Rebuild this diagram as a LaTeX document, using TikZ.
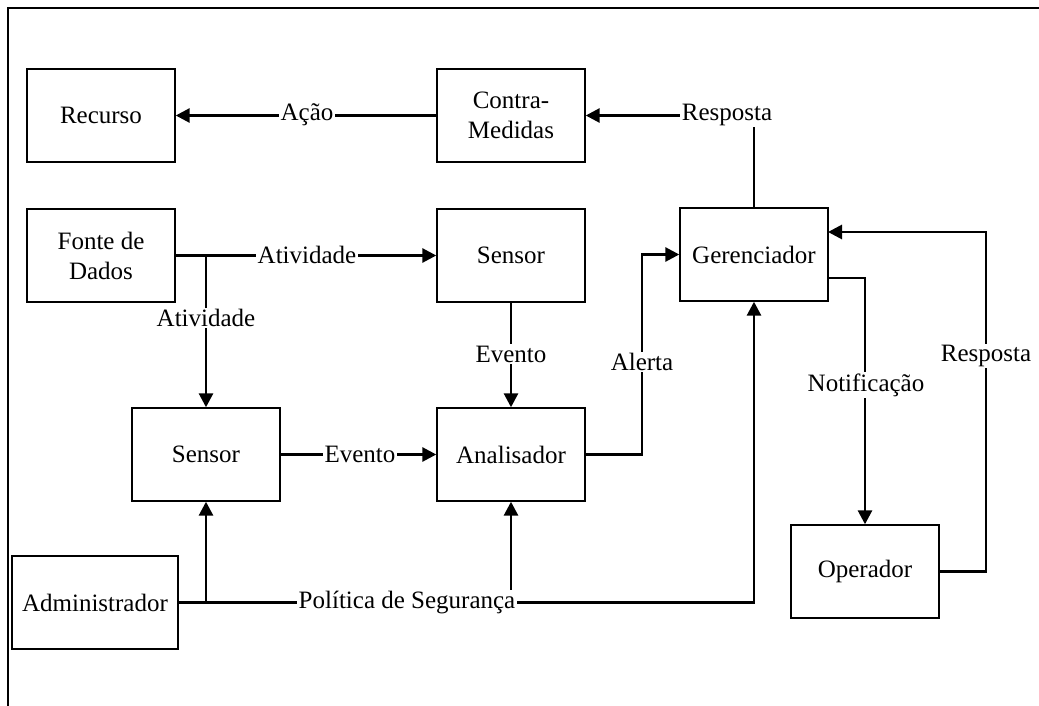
\documentclass[tikz,border=0pt]{standalone}
\usepackage{fontspec}
\setmainfont{Liberation Serif}
\usetikzlibrary{arrows.meta}
\begin{document}
\begin{tikzpicture}[x=1pt,y=-1pt,
  box/.style={draw,line width=1.4pt,rectangle,minimum width=148pt,minimum height=93pt,
    inner sep=0pt,align=center,font=\fontsize{25}{30}\selectfont},
  conn/.style={line width=2.8pt,-{Triangle[length=14pt,width=14pt]}},
  lbl/.style={fill=white,inner sep=1.5pt,font=\fontsize{25}{30}\selectfont}]
\useasboundingbox (0,0) rectangle (1039,706);
% outer frame (top and left edges)
\draw[line width=1.4pt] (8,706) -- (8,8) -- (1039,8);

% blocks
\node[box] (recurso) at (101,115.5) {Recurso};
\node[box] (contra) at (511,115.5) {Contra-\\Medidas};
\node[box] (fonte) at (101,255.5) {Fonte de\\Dados};
\node[box] (sensorA) at (511,255.5) {Sensor};
\node[box] (ger) at (754,254.5) {Gerenciador};
\node[box] (sensorB) at (206,454.5) {Sensor};
\node[box] (anal) at (511,454.5) {Analisador};
\node[box,minimum width=166pt] (admin) at (95,602.5) {Administrador};
\node[box] (oper) at (865,571.5) {Operador};

% routing points
\coordinate (alertX) at (642,0);
\coordinate (notifOut) at (828,278);
\coordinate (respIn) at (828,232);
\coordinate (respX) at (986,0);

% connectors
\draw[conn] (contra.west) -- (recurso.east);
\draw[conn] (ger.north) |- (contra.east);
\draw[conn] (fonte.east) -- (sensorA.west);
\draw[conn] (fonte.east -| sensorB.north) -- (sensorB.north);
\draw[conn] (sensorA.south) -- (anal.north);
\draw[conn] (sensorB.east) -- (anal.west);
\draw[conn] (anal.east) -- (anal.east -| alertX) |- (ger.west);
\draw[conn] (notifOut) -| (oper.north);
\draw[conn] (oper.east) -- (oper.east -| respX) |- (respIn);
\draw[conn] (admin.east) -| (ger.south);
\draw[conn] (admin.east -| sensorB.south) -- (sensorB.south);
\draw[conn] (admin.east -| anal.south) -- (anal.south);

% connector labels
\node[lbl] at (307,115) {Ação};
\node[lbl] at (727,115) {Resposta};
\node[lbl] at (307,255) {Atividade};
\node[lbl] at (206,318) {Atividade};
\node[lbl] at (511,354) {Evento};
\node[lbl] at (360,454) {Evento};
\node[lbl] at (642,362) {Alerta};
\node[lbl] at (866,385) {Notificação};
\node[lbl] at (986,356) {Resposta};
\node[lbl] at (407,603) {Política de Segurança};
\end{tikzpicture}
\end{document}
